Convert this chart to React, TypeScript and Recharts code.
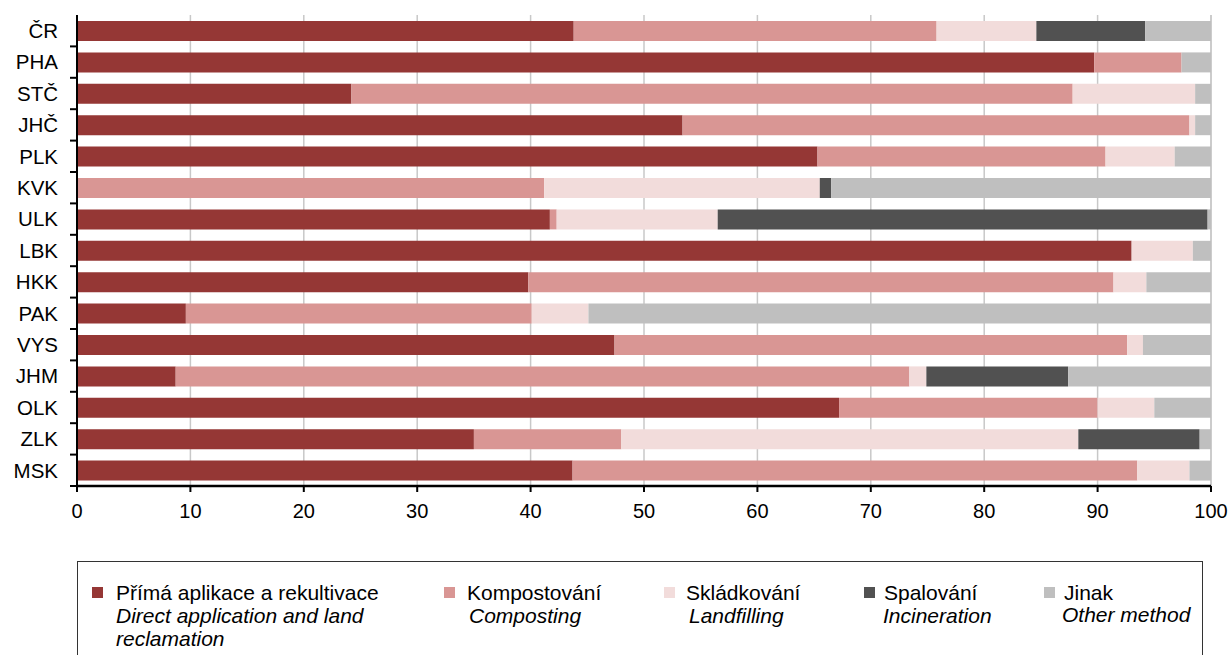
import React from 'react';
import { BarChart, Bar, XAxis, YAxis, CartesianGrid } from 'recharts';

const categories = ['ČR', 'PHA', 'STČ', 'JHČ', 'PLK', 'KVK', 'ULK', 'LBK', 'HKK', 'PAK', 'VYS', 'JHM', 'OLK', 'ZLK', 'MSK'];
const direct = [43.8, 89.7, 24.2, 53.4, 65.3, 0, 41.7, 93.0, 39.8, 9.6, 47.4, 8.7, 67.2, 35.0, 43.7];
const composting = [32.0, 7.7, 63.6, 44.7, 25.4, 41.2, 0.6, 0, 51.6, 30.5, 45.2, 64.7, 22.8, 13.0, 49.8];
const landfill = [8.8, 0, 10.8, 0.5, 6.1, 24.3, 14.2, 5.4, 2.9, 5.0, 1.4, 1.5, 5.0, 40.3, 4.6];
const incineration = [9.6, 0, 0, 0, 0, 1.0, 43.2, 0, 0, 0, 0, 12.5, 0, 10.7, 0];
const other = [5.8, 2.6, 1.4, 1.4, 3.2, 33.5, 0.3, 1.6, 5.7, 54.9, 6.0, 12.6, 5.0, 1.0, 1.9];
const xTicks = [0, 10, 20, 30, 40, 50, 60, 70, 80, 90, 100];

const seriesKeys = ['direct', 'composting', 'landfill', 'incineration', 'other'];
const seriesColors = ['#953735', '#D99694', '#F2DCDB', '#515151', '#BFBFBF'];
const legendCz = ['Přímá aplikace a rekultivace', 'Kompostování', 'Skládkování', 'Spalování', 'Jinak'];
const legendEn = ['Direct application and land reclamation', 'Composting', 'Landfilling', 'Incineration', 'Other method'];

const data = categories.map((name, i) => ({
  name,
  direct: direct[i],
  composting: composting[i],
  landfill: landfill[i],
  incineration: incineration[i],
  other: other[i],
}));

const FONT = '"Liberation Sans", Arial, Helvetica, sans-serif';

const YTick = (props: any) => {
  const { x, y, payload } = props;
  const off = payload && typeof payload.offset === 'number' ? payload.offset : 15.7;
  return (
    <g>
      <text x={x} y={y} dy="0.36em" textAnchor="end" fontSize={20.5} fontFamily={FONT} fill="#000">
        {payload.value}
      </text>
      <line x1={x + 12} x2={x + 19} y1={y + off} y2={y + off} stroke="#000" strokeWidth={2} />
    </g>
  );
};

const legendItems = [
  { marker: 92, text: 116, text2: 116, width: 300, top2: 605 },
  { marker: 444, text: 467, text2: 469, width: 180, top2: 605 },
  { marker: 664, text: 686, text2: 689, width: 170, top2: 605 },
  { marker: 864, text: 884, text2: 883, width: 160, top2: 605 },
  { marker: 1044, text: 1064, text2: 1062, width: 140, top2: 604 },
];

export default function App() {
  return (
    <div style={{ position: 'absolute', left: 0, top: 0, width: 1229, height: 655, background: '#fff', overflow: 'hidden' }}>
      <BarChart
        width={1229}
        height={540}
        data={data}
        layout="vertical"
        margin={{ top: 15, right: 18, bottom: 0, left: 0 }}
        barSize={20}
      >
        <CartesianGrid horizontal={false} vertical stroke="#C8C8C8" strokeWidth={1.5} />
        <XAxis
          type="number"
          domain={[0, 100]}
          ticks={xTicks}
          interval={0}
          height={54}
          tickSize={6}
          tickMargin={12}
          tick={{ fontSize: 20, fontFamily: FONT, fill: '#000' }}
          tickLine={{ stroke: '#000', strokeWidth: 2 }}
          axisLine={{ stroke: '#000', strokeWidth: 2.5 }}
        />
        <XAxis
          xAxisId="top"
          orientation="top"
          type="number"
          domain={[0, 100]}
          height={0}
          tick={false}
          tickLine={false}
          axisLine={{ stroke: '#3a3a3a', strokeWidth: 2 }}
        />
        <YAxis
          type="category"
          dataKey="name"
          width={77}
          interval={0}
          tickSize={7}
          tickMargin={12}
          tickLine={false}
          tick={<YTick />}
          axisLine={{ stroke: '#000', strokeWidth: 2 }}
        />
        <YAxis
          yAxisId="right"
          orientation="right"
          type="category"
          dataKey="name"
          width={0}
          tick={false}
          tickLine={false}
          axisLine={{ stroke: '#000', strokeWidth: 2 }}
        />
        {seriesKeys.map((k, i) => (
          <Bar key={k} dataKey={k} stackId="a" fill={seriesColors[i]} isAnimationActive={false} />
        ))}
      </BarChart>
      <div
        style={{
          position: 'absolute',
          left: 77,
          top: 561,
          width: 1126,
          height: 120,
          borderTop: '1.5px solid #333',
          borderLeft: '1.5px solid #333',
          borderRight: '1.5px solid #333',
          boxSizing: 'border-box',
        }}
      />
      {legendItems.map((it, i) => (
        <React.Fragment key={i}>
          <div
            style={{
              position: 'absolute',
              left: it.marker,
              top: 587,
              width: 11,
              height: 11,
              background: seriesColors[i],
            }}
          />
          <div
            style={{
              position: 'absolute',
              left: it.text,
              top: 581,
              fontFamily: FONT,
              fontSize: 21,
              lineHeight: '23px',
              color: '#000',
              whiteSpace: 'nowrap',
            }}
          >
            {legendCz[i]}
          </div>
          <div
            style={{
              position: 'absolute',
              left: it.text2,
              top: it.top2,
              width: it.width,
              fontFamily: FONT,
              fontSize: 21,
              fontStyle: 'italic',
              lineHeight: '22.5px',
              color: '#000',
            }}
          >
            {legendEn[i]}
          </div>
        </React.Fragment>
      ))}
    </div>
  );
}
